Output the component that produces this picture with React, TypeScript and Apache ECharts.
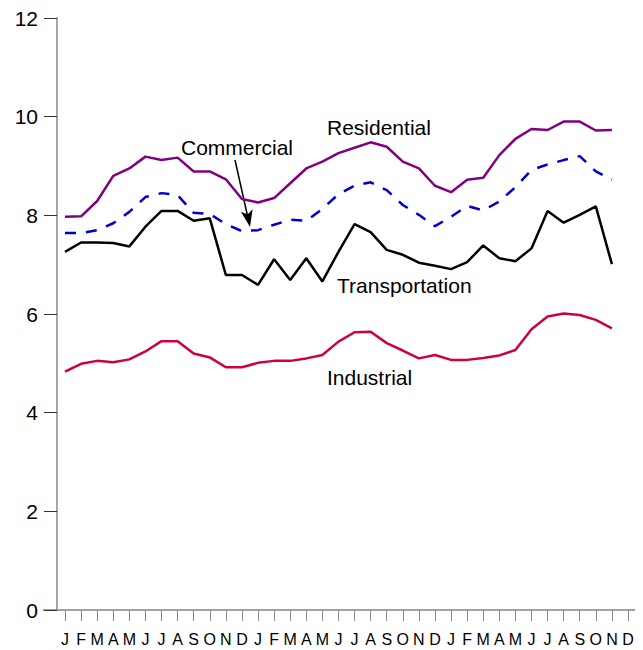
import React, { useEffect, useRef } from "react";
import * as echarts from "echarts";

const months = ["J", "F", "M", "A", "M", "J", "J", "A", "S", "O", "N", "D"];
const categories = [...months, ...months, ...months];

const residential = [
  7.97, 7.98, 8.29, 8.8, 8.95, 9.19, 9.12, 9.17, 8.89, 8.89, 8.73, 8.33,
  8.26, 8.35, 8.65, 8.95, 9.09, 9.26, 9.37, 9.48, 9.39, 9.09, 8.95, 8.6,
  8.47, 8.72, 8.76, 9.22, 9.55, 9.75, 9.73, 9.9, 9.9, 9.72, 9.73,
];
const commercial = [
  7.64, 7.64, 7.7, 7.84, 8.07, 8.37, 8.45, 8.41, 8.05, 8.03, 7.82, 7.68,
  7.7, 7.81, 7.91, 7.89, 8.13, 8.43, 8.6, 8.67, 8.51, 8.21, 8.01, 7.78,
  7.97, 8.19, 8.1, 8.28, 8.57, 8.92, 9.03, 9.12, 9.2, 8.89, 8.72,
];
const transportation = [
  7.26, 7.45, 7.45, 7.44, 7.37, 7.77, 8.09, 8.09, 7.89, 7.94, 6.79, 6.79,
  6.59, 7.11, 6.69, 7.13, 6.66, 7.26, 7.82, 7.66, 7.3, 7.2, 7.04, 6.98,
  6.91, 7.05, 7.39, 7.13, 7.07, 7.33, 8.09, 7.85, 8.01, 8.18, 7.01,
];
const industrial = [
  4.83, 4.99, 5.05, 5.02, 5.08, 5.24, 5.45, 5.45, 5.2, 5.12, 4.92, 4.92,
  5.01, 5.05, 5.05, 5.1, 5.17, 5.44, 5.63, 5.64, 5.41, 5.26, 5.1, 5.17,
  5.07, 5.07, 5.11, 5.16, 5.27, 5.69, 5.95, 6.01, 5.98, 5.88, 5.71,
];

const FONT = '"Liberation Sans", Arial, Helvetica, sans-serif';

export default function App() {
  const ref = useRef<HTMLDivElement>(null);
  useEffect(() => {
    if (!ref.current) return;
    const chart = echarts.init(ref.current, undefined, { renderer: "svg" });
    const line = (name: string, data: number[], color: string, dashed = false) => ({
      name,
      type: "line",
      data,
      symbol: "none",
      lineStyle: { color, width: 2.5, type: dashed ? [11, 10] : "solid" },
      itemStyle: { color },
    });
    const label = (text: string, x: number, y: number) => ({
      type: "text",
      x,
      y,
      style: { text, font: `21px ${FONT}`, fill: "#000", verticalAlign: "middle" },
      z: 10,
    });
    chart.setOption({
      animation: false,
      backgroundColor: "#fff",
      grid: { left: 65, right: 15, top: 18, bottom: 40 },
      xAxis: {
        type: "category",
        data: categories,
        boundaryGap: false,
        axisLine: { show: false },
        axisTick: { show: true, length: 11, interval: 0, lineStyle: { color: "#888", width: 1 } },
        axisLabel: { interval: 0, margin: 21, fontSize: 16, color: "#000", fontFamily: FONT },
        splitLine: { show: false },
      },
      yAxis: {
        type: "value",
        min: 0,
        max: 12,
        interval: 2,
        offset: 8,
        axisLine: { show: true, lineStyle: { color: "#888", width: 1.5 } },
        axisTick: { show: true, length: 13, lineStyle: { color: "#333", width: 1 } },
        axisLabel: { margin: 19, fontSize: 21, color: "#000", fontFamily: FONT },
        splitLine: { show: false },
      },
      series: [
        line("Residential", residential, "#800080"),
        line("Commercial", commercial, "#0000CC", true),
        line("Transportation", transportation, "#000000"),
        line("Industrial", industrial, "#CC0044"),
      ],
      graphic: [
        { type: "line", shape: { x1: 43, y1: 610, x2: 635, y2: 610 }, style: { stroke: "#444", lineWidth: 1.2 } },
        label("Residential", 327, 127),
        label("Commercial", 181, 147),
        label("Transportation", 337, 285),
        label("Industrial", 327, 377),
        { type: "line", shape: { x1: 235, y1: 160, x2: 248, y2: 218 }, style: { stroke: "#000", lineWidth: 1.5 } },
        {
          type: "polygon",
          shape: { points: [[250, 227], [252.6, 209.2], [247.6, 214.5], [240.9, 211.8]] },
          style: { fill: "#000" },
        },
      ],
    });
    return () => chart.dispose();
  }, []);
  return <div ref={ref} style={{ width: 643, height: 650, position: "absolute", left: 0, top: 0 }} />;
}
